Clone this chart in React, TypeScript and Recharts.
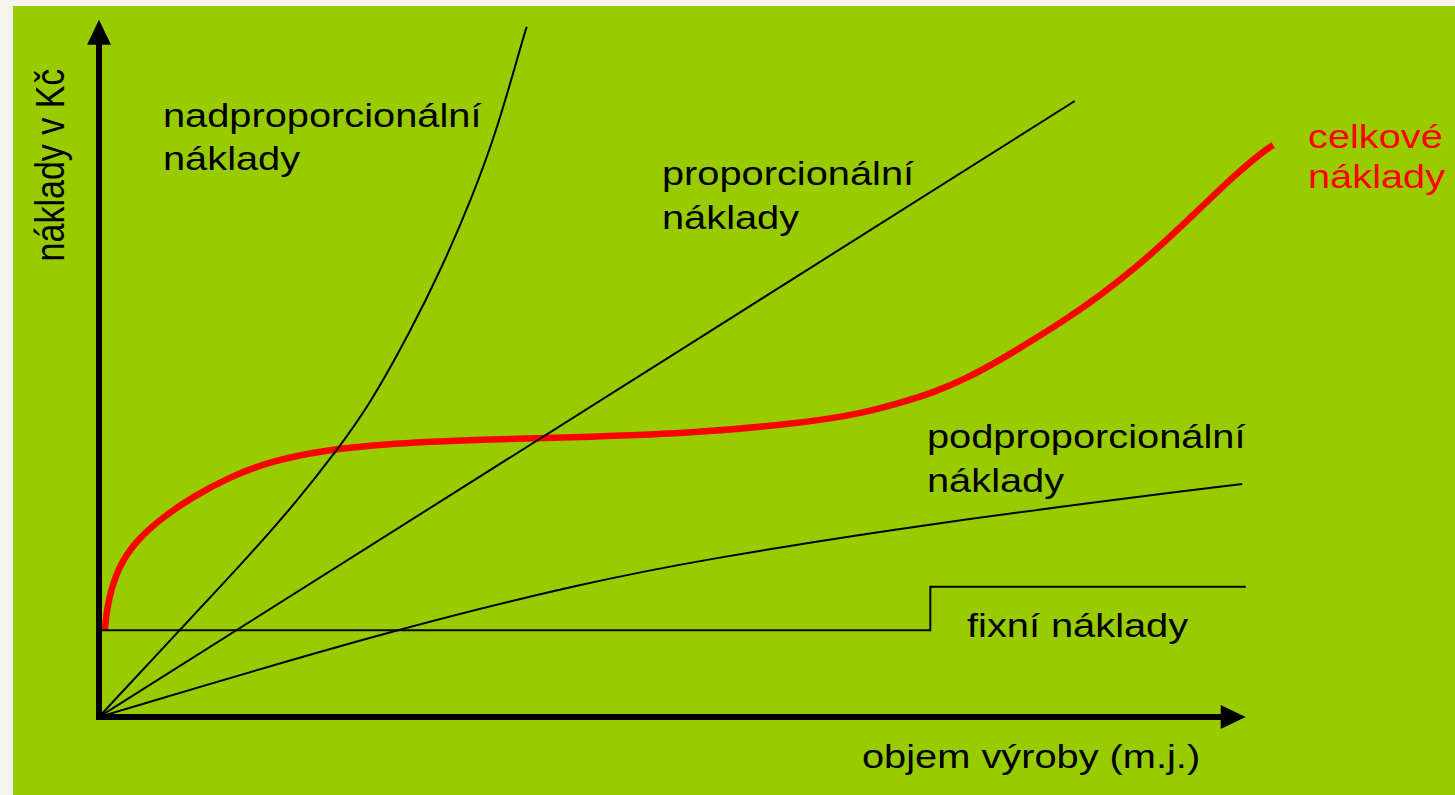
import { LineChart, Line, XAxis, YAxis, ReferenceLine } from "recharts"

// values in chart units: x = output volume (0..100), y = cost (0..100)
const totalCosts = [
  { x: 0.52, y: 12.4 }, { x: 0.6, y: 14.0 }, { x: 0.81, y: 16.7 }, { x: 1.68, y: 21.5 }, { x: 3.29, y: 25.3 },
  { x: 5.61, y: 28.6 }, { x: 8.22, y: 31.5 }, { x: 11.4, y: 34.3 }, { x: 14.9, y: 36.5 },
  { x: 19.5, y: 38.1 }, { x: 25.4, y: 39.1 }, { x: 34.1, y: 39.7 }, { x: 42.8, y: 40.0 },
  { x: 52.4, y: 40.6 }, { x: 61.1, y: 42.0 }, { x: 64.0, y: 42.7 }, { x: 67.0, y: 43.6 },
  { x: 69.9, y: 44.9 }, { x: 72.7, y: 46.3 }, { x: 75.7, y: 48.4 }, { x: 78.6, y: 51.0 },
  { x: 81.5, y: 53.9 }, { x: 84.4, y: 56.9 }, { x: 87.3, y: 60.2 }, { x: 90.2, y: 63.9 },
  { x: 93.1, y: 68.1 }, { x: 96.0, y: 72.6 }, { x: 98.9, y: 77.2 }, { x: 101.6, y: 80.9 }, { x: 102.4, y: 81.7 },
]

const overProportional = [
  { x: 0, y: 0 }, { x: 0.5, y: 0.9 }, { x: 6.8, y: 12.0 }, { x: 13.2, y: 23.2 }, { x: 17.3, y: 30.9 },
  { x: 20.8, y: 38.2 }, { x: 23.6, y: 44.6 }, { x: 27.1, y: 54.9 }, { x: 30.0, y: 64.5 },
  { x: 32.6, y: 74.5 }, { x: 34.7, y: 83.8 }, { x: 36.9, y: 96.5 }, { x: 37.3, y: 98.6 },
]

const proportional = [{ x: 0, y: 0 }, { x: 85.1, y: 88.0 }]

const underProportional = [
  { x: 0, y: 0 }, { x: 1, y: 0.5 }, { x: 25.4, y: 12.4 }, { x: 42.8, y: 19.3 }, { x: 52.4, y: 22.4 },
  { x: 72.5, y: 27.7 }, { x: 98.7, y: 33.1 }, { x: 99.7, y: 33.3 },
]

const fixedCosts = [{ x: 0, y: 12.4 }, { x: 72.5, y: 18.6 }, { x: 100, y: 18.6 }]

const labelOver = ["nadproporcionální", "náklady"]
const labelProp = ["proporcionální", "náklady"]
const labelUnder = ["podproporcionální", "náklady"]
const labelFixed = ["fixní náklady"]
const labelTotal = ["celkové", "náklady"]
const xTitle = "objem výroby (m.j.)"
const yTitle = "náklady v Kč"

const FONT = "'Liberation Sans', Arial, sans-serif"
const STRETCH = 1.17

function Caption({ x, y, lines, color = "#000", lh = 43 }: { x: number; y: number; lines: string[]; color?: string; lh?: number }) {
  return (
    <text transform={`translate(${x},${y}) scale(${STRETCH},1)`} fontFamily={FONT} fontSize={34} fill={color}>
      {lines.map((l, i) => (
        <tspan key={i} x={0} dy={i ? lh : 0}>{l}</tspan>
      ))}
    </text>
  )
}

function Arrow(p: any) {
  const { x1, y1, x2, y2 } = p
  const dx = x2 - x1, dy = y2 - y1
  const len = Math.hypot(dx, dy)
  const ux = dx / len, uy = dy / len
  const head = 25, half = 12
  const bx = x2 - ux * head, by = y2 - uy * head
  return (
    <g>
      <line x1={x1} y1={y1} x2={bx} y2={by} stroke="#000" strokeWidth={6} strokeLinecap="square" />
      <polygon
        points={`${x2},${y2} ${bx - uy * half},${by + ux * half} ${bx + uy * half},${by - ux * half}`}
        fill="#000"
      />
    </g>
  )
}

export default function App() {
  return (
    <div style={{ position: "fixed", left: 0, top: 0, width: 1455, height: 795, background: "#f3f5ec" }}>
      <div style={{ position: "absolute", left: 13, top: 6, width: 1442, height: 789, background: "#99cc00" }} />
      <div style={{ position: "absolute", left: 0, top: 0 }}>
        <LineChart width={1455} height={795} margin={{ top: 17, right: 152, bottom: 78, left: 99 }}>
          <XAxis type="number" dataKey="x" domain={[0, 105]} hide allowDataOverflow />
          <YAxis type="number" dataKey="y" domain={[0, 100]} hide allowDataOverflow />
          <ReferenceLine segment={[{ x: 0, y: 0 }, { x: 0, y: 99.6 }]} shape={Arrow} ifOverflow="visible" />
          <ReferenceLine segment={[{ x: 0, y: 0 }, { x: 100, y: 0 }]} shape={Arrow} ifOverflow="visible" />
          <Line data={totalCosts} dataKey="y" type="basis" stroke="#ff0000" strokeWidth={6.5}
            dot={false} activeDot={false} isAnimationActive={false} />
          <Line data={fixedCosts} dataKey="y" type="stepAfter" stroke="#000" strokeWidth={2}
            dot={false} activeDot={false} isAnimationActive={false} />
          <Line data={underProportional} dataKey="y" type="basis" stroke="#000" strokeWidth={2}
            dot={false} activeDot={false} isAnimationActive={false} />
          <Line data={proportional} dataKey="y" type="linear" stroke="#000" strokeWidth={2}
            dot={false} activeDot={false} isAnimationActive={false} />
          <Line data={overProportional} dataKey="y" type="basis" stroke="#000" strokeWidth={2}
            dot={false} activeDot={false} isAnimationActive={false} />
        </LineChart>
      </div>
      <svg width={1455} height={795} style={{ position: "absolute", left: 0, top: 0, pointerEvents: "none" }}>
        <Caption x={163} y={127} lines={labelOver} />
        <Caption x={662} y={185} lines={labelProp} lh={44} />
        <Caption x={927} y={448} lines={labelUnder} lh={44} />
        <Caption x={967} y={637} lines={labelFixed} />
        <Caption x={1308} y={148} lines={labelTotal} color="#ff0000" lh={40} />
        <Caption x={862} y={768} lines={[xTitle]} />
        <text transform={`translate(64,165) scale(${STRETCH},1) rotate(-90)`} fontFamily={FONT} fontSize={34}
          textAnchor="middle" fill="#000">{yTitle}</text>
      </svg>
    </div>
  )
}
